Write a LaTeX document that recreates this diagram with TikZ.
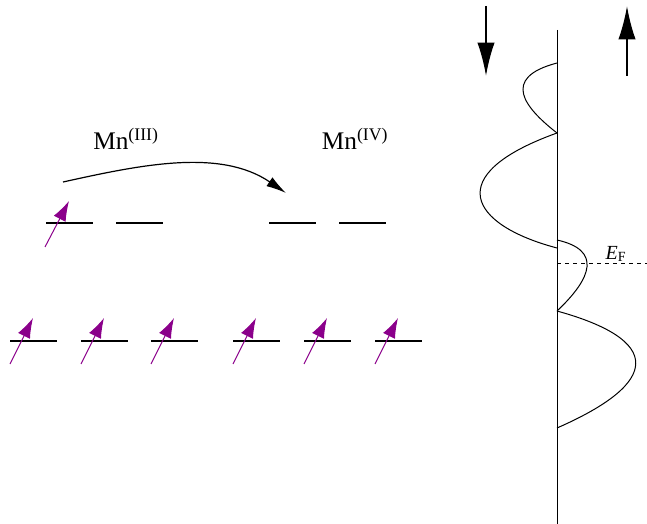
\documentclass[tikz,border=0pt]{standalone}
\usepackage{fontspec}
\setmainfont{Liberation Serif}
\usetikzlibrary{arrows.meta}

\definecolor{spinpurple}{RGB}{139,0,139}

\tikzset{
    level/.style={line width=0.9pt},
    spin/.style={spinpurple, line width=0.75pt, -{Latex[length=15pt, width=10pt]}},
    bigspin/.style={line width=1.5pt, -{Latex[length=25pt, width=13pt]}},
    dos/.style={line width=0.75pt},
}

\begin{document}
\begin{tikzpicture}[x=0.75pt, y=-0.75pt]
        \useasboundingbox (0, 0) rectangle (647, 524);

        % labels and hopping arrow
        \node [font=\fontsize{19}{21}\selectfont] (mnIII) at (126, 139) {Mn\textsuperscript{(III)}};
        \node [font=\fontsize{19}{21}\selectfont] (mnIV) at (355, 139) {Mn\textsuperscript{(IV)}};
        \coordinate (hopfrom) at (63, 182);
        \coordinate (hopto) at (286, 193);
        \draw [line width=0.9pt, -{Latex[length=15pt, width=8pt]}] (hopfrom) .. controls (140, 165) and (220, 148) .. (hopto);

        % upper levels
        \draw [level] (46, 223) -- (93, 223);
        \draw [level] (116, 223) -- (163, 223);
        \draw [level] (269, 223) -- (316, 223);
        \draw [level] (339, 223) -- (386, 223);
        \draw [spin] (45, 247) -- (69, 201);

        % lower levels
        \draw [level] (10, 341) -- (57, 341);
        \draw [level] (81, 341) -- (128, 341);
        \draw [level] (151, 341) -- (198, 341);
        \draw [level] (233, 341) -- (280, 341);
        \draw [level] (304, 341) -- (351, 341);
        \draw [level] (375, 341) -- (422, 341);
        \draw [spin] (10, 364) -- (33, 318);
        \draw [spin] (81, 364) -- (104, 318);
        \draw [spin] (151, 364) -- (174, 318);
        \draw [spin] (233, 364) -- (256, 318);
        \draw [spin] (304, 364) -- (327, 318);
        \draw [spin] (375, 364) -- (398, 318);

        % density of states
        \coordinate (axtop) at (557, 30);
        \coordinate (axbot) at (557, 524);
        \draw [dos] (axtop) -- (axbot);
        \draw [bigspin] (486, 6) -- (486, 76);
        \draw [bigspin] (627, 76) -- (627, 6);
        \draw [dos] (557, 63) .. controls (500, 78) and (525, 108) .. (557, 133);
        \draw [dos] (557, 133) .. controls (440, 175) and (470, 225) .. (557, 248);
        \draw [dos] (557, 240) .. controls (602, 250) and (592, 278) .. (557, 311);
        \draw [dos] (557, 311) .. controls (662, 340) and (662, 382) .. (557, 428);

        % Fermi level
        \coordinate (fermi) at (557, 264);
        \coordinate (fermiend) at (647, 264);
        \draw [dos, dashed] (fermi) -- (fermiend);
        \node [font=\fontsize{15}{17}\selectfont] (ef) at (616, 254) {\textit{E}\textsubscript{F}};
    \end{tikzpicture}
\end{document}
